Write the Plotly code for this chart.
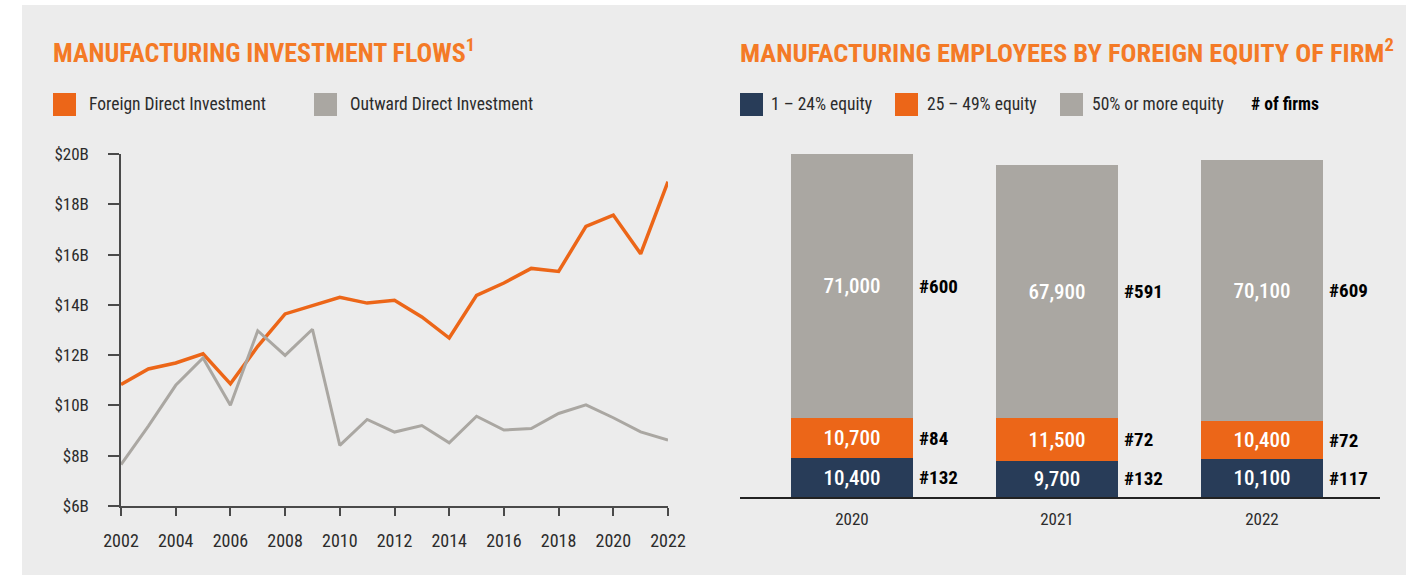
import plotly.graph_objects as go

# ---- Manufacturing investment flows (billions USD) ----
years = list(range(2002, 2023))
fdi = [10.83, 11.45, 11.69, 12.05, 10.86, 12.35, 13.64, 13.98, 14.30, 14.07, 14.18,
       13.52, 12.68, 14.38, 14.87, 15.45, 15.33, 17.12, 17.57, 16.03, 18.90]
odi = [7.65, 9.18, 10.80, 11.89, 10.01, 12.97, 11.99, 13.03, 8.41, 9.44, 8.94,
       9.20, 8.51, 9.57, 9.02, 9.08, 9.68, 10.02, 9.51, 8.95, 8.62]
y_ticks = [6, 8, 10, 12, 14, 16, 18, 20]
y_tick_labels = ["$6B", "$8B", "$10B", "$12B", "$14B", "$16B", "$18B", "$20B"]
x_ticks = list(range(2002, 2023, 2))

# ---- Manufacturing employees by foreign equity of firm ----
bar_years = ["2020", "2021", "2022"]
equity_low = [10400, 9700, 10100]      # 1-24% equity
equity_mid = [10700, 11500, 10400]     # 25-49% equity
equity_high = [71000, 67900, 70100]    # 50% or more equity
firms_low = [132, 132, 117]
firms_mid = [84, 72, 72]
firms_high = [600, 591, 609]

ORANGE = "#ec6618"
TITLE_ORANGE = "#f47a26"
GRAY = "#aaa7a2"
NAVY = "#283c58"
PANEL = "#ececec"
TEXT = "#2b2b2b"
FONT = "Roboto, Open Sans, sans-serif"

W, H = 1426, 575


def px(x):
    return x / W


def py(y):
    return 1 - y / H


fig = go.Figure()

fig.add_trace(go.Scatter(x=years, y=fdi, mode="lines", line=dict(color=ORANGE, width=3.5),
                         xaxis="x", yaxis="y", showlegend=False, hoverinfo="x+y"))
fig.add_trace(go.Scatter(x=years, y=odi, mode="lines", line=dict(color=GRAY, width=3),
                         xaxis="x", yaxis="y", showlegend=False, hoverinfo="x+y"))

bar_width = 0.595
for vals, col in [(equity_low, NAVY), (equity_mid, ORANGE), (equity_high, GRAY)]:
    fig.add_trace(go.Bar(
        x=list(range(len(bar_years))), y=vals, marker=dict(color=col, line=dict(width=0)),
        width=bar_width, xaxis="x2", yaxis="y2", showlegend=False,
        text=vals, texttemplate="%{y:,}", textposition="inside", insidetextanchor="middle",
        textfont=dict(family=FONT, size=21, color="white", weight=500), constraintext="none",
        hoverinfo="y",
    ))

annotations = []
shapes = []

# background panel
shapes.append(dict(type="rect", xref="paper", yref="paper", x0=px(22), x1=px(1406),
                   y0=0, y1=py(5), fillcolor=PANEL, line=dict(width=0), layer="below"))


def left_text(x, y, text, size, color, xref="paper", yref="paper"):
    # left-anchored, left-aligned label so its start does not depend on measured width
    return dict(x=x, y=y, xref=xref, yref=yref, xanchor="left", yanchor="middle",
                align="left", showarrow=False, text=text, borderpad=0,
                font=dict(family=FONT, size=size, color=color))


# firm counts beside each stacked segment
for i in range(len(bar_years)):
    segs = [(equity_low[i], firms_low[i]), (equity_mid[i], firms_mid[i]), (equity_high[i], firms_high[i])]
    base = 0
    for val, n in segs:
        annotations.append(left_text(i + 0.32, base + val / 2, f"<b>#{n}</b>", 19, "black",
                                     xref="x2", yref="y2"))
        base += val

# titles
annotations.append(left_text(px(52), py(51), "<b>MANUFACTURING INVESTMENT FLOWS<sup>1</sup></b>",
                             26, TITLE_ORANGE))
annotations.append(left_text(px(739), py(51),
                             "<b>MANUFACTURING EMPLOYEES BY FOREIGN EQUITY OF FIRM<sup>2</sup></b>",
                             26.5, TITLE_ORANGE))

# legend swatches and labels
legend_items = [
    (53, ORANGE, 88, "Foreign Direct Investment"),
    (314, GRAY, 349, "Outward Direct Investment"),
    (740, NAVY, 770, "1 – 24% equity"),
    (895, ORANGE, 926, "25 – 49% equity"),
    (1060, GRAY, 1091, "50% or more equity"),
]
for sx, col, tx, label in legend_items:
    size = 23
    shapes.append(dict(type="rect", xref="paper", yref="paper", x0=px(sx), x1=px(sx + size),
                       y0=py(93 + size), y1=py(93), fillcolor=col, line=dict(width=0)))
    annotations.append(left_text(px(tx), py(104), label, 17.5, TEXT))
annotations.append(left_text(px(1250), py(104), "<b># of firms</b>", 17.5, "black"))

axis_col = "#4a4a4a"
fig.update_layout(
    width=W, height=H, margin=dict(l=0, r=0, t=0, b=0, autoexpand=False),
    paper_bgcolor="white", plot_bgcolor="rgba(0,0,0,0)",
    barmode="stack", bargap=0, showlegend=False,
    font=dict(family=FONT, size=17, color=TEXT),
    xaxis=dict(domain=[px(121), px(668)], range=[2002, 2022], tickvals=x_ticks,
               showgrid=False, zeroline=False, showline=True, linecolor=axis_col, linewidth=1.5,
               ticks="outside", ticklen=8, tickcolor=axis_col, tickwidth=1.5,
               ticklabelstandoff=10, automargin=False,
               tickfont=dict(family=FONT, size=18, color=TEXT), anchor="y"),
    yaxis=dict(domain=[py(506), py(154)], range=[6, 20], tickvals=y_ticks, ticktext=y_tick_labels,
               showgrid=False, zeroline=False, showline=True, linecolor=axis_col, linewidth=1.5,
               ticks="outside", ticklen=11, tickcolor=axis_col, tickwidth=1.5,
               ticklabelstandoff=16, automargin=False,
               tickfont=dict(family=FONT, size=17, color=TEXT), anchor="x"),
    xaxis2=dict(domain=[px(740), px(1380)], range=[-0.546, 2.576], tickvals=[0, 1, 2],
                ticktext=bar_years, showgrid=False, zeroline=False, showline=True,
                linecolor="#222222", linewidth=1.5, ticks="", ticklabelstandoff=6,
                automargin=False,
                tickfont=dict(family=FONT, size=17, color=TEXT), anchor="y2"),
    yaxis2=dict(domain=[py(497), py(154)], range=[0, 92100], visible=False, anchor="x2",
                automargin=False),
    shapes=shapes, annotations=annotations,
)

# Condensed face for every label, then redraw.
post = """
document.body.style.margin = '0';
var css = document.createElement('style');
css.textContent = 'svg text, svg tspan { font-stretch: 75% !important; }';
document.head.appendChild(css);
var gd = document.getElementById('{plot_id}');
Plotly.newPlot(gd, gd.data, gd.layout, gd._context);
"""
fig.write_html("out.html", post_script=post)
